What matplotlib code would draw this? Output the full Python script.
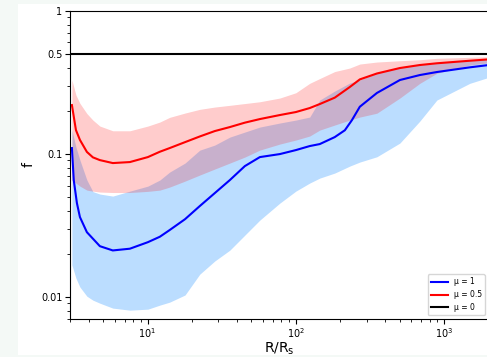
import numpy as np
import matplotlib
matplotlib.use("Agg")
import matplotlib.pyplot as plt
from matplotlib.patches import Rectangle
from matplotlib.ticker import FixedLocator, FixedFormatter, LogLocator, NullFormatter

##################################### data #####################################

# common radius grid for the bands and the red curve (R / R_s)
r_grid = [3.09, 3.29, 3.50, 3.90, 4.28, 4.77, 5.83, 7.60, 10.05, 12.1, 14.1, 17.9, 22.5, 28.4, 35.9,
          45.3, 57.2, 78.0, 100, 124, 145, 183, 231, 270, 352, 503, 686, 893, 1490, 2000]

# mu = 0.5
f_half = [0.219, 0.1464, 0.125, 0.103, 0.0944, 0.0903, 0.0861, 0.0875, 0.0948, 0.1033, 0.1096,
          0.1206, 0.1321, 0.1441, 0.1537, 0.165, 0.1748, 0.1865, 0.1957, 0.2087, 0.2226, 0.2468,
          0.2927, 0.331, 0.364, 0.3975, 0.4172, 0.429, 0.447, 0.457]
f_half_hi = [0.3277, 0.2573, 0.2251, 0.191, 0.172, 0.1562, 0.1448, 0.1448, 0.1562, 0.1666, 0.1797,
             0.1926, 0.2044, 0.2121, 0.2181, 0.2244, 0.231, 0.2452, 0.267, 0.3107, 0.3357, 0.3756,
             0.3975, 0.4239, 0.4377, 0.447, 0.4543, 0.4647, 0.4722, 0.4769]
f_half_lo = [0.0655, 0.0624, 0.0594, 0.0557, 0.0548, 0.054, 0.0536, 0.0536, 0.0546, 0.0557, 0.0585,
             0.0644, 0.071, 0.0782, 0.0861, 0.0948, 0.1061, 0.1169, 0.1247, 0.133, 0.1464, 0.1588,
             0.172, 0.1805, 0.1921, 0.2452, 0.3107, 0.3653, 0.4172, 0.4328]

# mu = 1 band
f_one_hi = [0.1464, 0.1114, 0.0903, 0.0655, 0.0544, 0.0523, 0.0506, 0.0548, 0.0594, 0.0655, 0.0745,
            0.0861, 0.106, 0.115, 0.1308, 0.1418, 0.1537, 0.164, 0.172, 0.1805, 0.2374, 0.2745,
            0.3122, 0.3277, 0.3667, 0.404, 0.4172, 0.4308, 0.4521, 0.4595]
f_one_lo = [0.0167, 0.0135, 0.0117, 0.0101, 0.00948, 0.00903, 0.00834, 0.00807, 0.0082, 0.00875,
            0.00918, 0.0103, 0.0144, 0.0178, 0.0212, 0.027, 0.0344, 0.0452, 0.0548, 0.0624, 0.0676,
            0.0733, 0.082, 0.0875, 0.0953, 0.1188, 0.1693, 0.2374, 0.3107, 0.3422]

# mu = 1 curve (own grid, it drops steeply at small R)
r_one = [3.09, 3.18, 3.34, 3.50, 3.90, 4.77, 5.83, 7.60, 10.05, 12.1, 14.1, 17.9, 22.5, 28.4, 35.9,
         45.3, 57.2, 78.0, 100, 124, 145, 183, 214, 239, 270, 352, 503, 686, 893, 1490, 2000]
f_one = [0.1096, 0.0655, 0.0452, 0.0361, 0.0283, 0.0226, 0.0211, 0.0217, 0.0241, 0.0263, 0.0293,
         0.0349, 0.0431, 0.0531, 0.0655, 0.082, 0.0948, 0.0995, 0.1061, 0.1132, 0.1169, 0.1308,
         0.146, 0.172, 0.2132, 0.266, 0.3277, 0.3551, 0.3727, 0.4019, 0.4172]

# mu = 0
r_zero = [3, 2000]
f_zero = [0.5, 0.5]

y_ticks = [0.01, 0.1, 0.5, 1]
y_ticklabels = ["0.01", "0.1", "0.5", "1"]

##################################### plot #####################################

W, H = 487, 357
fig = plt.figure(figsize=(W / 100, H / 100), dpi=100)
fig.patch.set_facecolor("#f4f9f6")
fig.patches.append(Rectangle((18 / W, 2 / H), (W - 18) / W, 351 / H, transform=fig.transFigure,
                             facecolor="white", edgecolor="none", zorder=-10))

ax = fig.add_axes([70 / W, 38 / H, 418.8 / W, 308.3 / H])
ax.patch.set_alpha(0)
ax.set_xscale("log")
ax.set_yscale("log")

ax.fill_between(r_grid, f_one_lo, f_one_hi, color="dodgerblue", alpha=0.3, lw=0)
ax.fill_between(r_grid, f_half_lo, f_half_hi, color="red", alpha=0.2, lw=0)
ax.plot(r_one, f_one, color="blue", lw=1.5, label="μ = 1")
ax.plot(r_grid, f_half, color="red", lw=1.5, label="μ = 0.5")
ax.plot(r_zero, f_zero, color="black", lw=1.5, label="μ = 0")

ax.set_xlim(3, 2000)
ax.set_ylim(0.007, 1)

ax.yaxis.set_major_locator(FixedLocator(y_ticks))
ax.yaxis.set_major_formatter(FixedFormatter(y_ticklabels))
ax.yaxis.set_minor_locator(LogLocator(base=10, subs=np.arange(2, 10)))
ax.yaxis.set_minor_formatter(NullFormatter())
ax.tick_params(labelsize=7, pad=2)
ax.spines["right"].set_visible(False)

ax.set_xlabel("R/R$_\\mathrm{s}$", fontsize=10, labelpad=0)
ax.set_ylabel("f", fontsize=10, labelpad=4)

ax.legend(loc="lower right", fontsize=5.5, handlelength=2.2)

fig.savefig("out.png", dpi=100, facecolor=fig.get_facecolor())
